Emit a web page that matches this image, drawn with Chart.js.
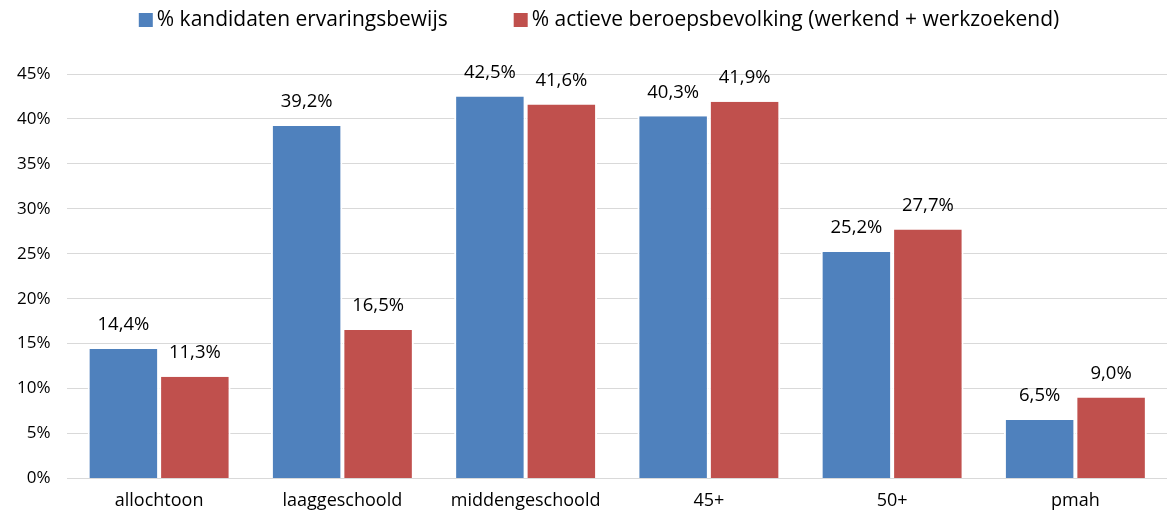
<!DOCTYPE html>
<html>
<head>
<meta charset="utf-8">
<script src="https://cdn.jsdelivr.net/npm/chart.js@4"></script>
<style>
  html, body { margin: 0; padding: 0; background: #fff; }
  #wrap { width: 1167px; height: 516px; position: relative; }
</style>
</head>
<body>
<div id="wrap"><canvas id="chart"></canvas></div>
<script>
// Categories and series
const categories = ['allochtoon', 'laaggeschoold', 'middengeschoold', '45+', '50+', 'pmah'];
const kandidaten = [14.4, 39.2, 42.5, 40.3, 25.2, 6.5];
const beroepsbevolking = [11.3, 16.5, 41.6, 41.9, 27.7, 9.0];
const seriesNames = ['% kandidaten ervaringsbewijs', '% actieve beroepsbevolking (werkend + werkzoekend)'];
const seriesColors = ['#4f81bd', '#c0504d'];

const fontFamily = "'Open Sans', 'Noto Sans', sans-serif";

// Value labels above bars, comma as decimal separator
const barLabels = {
  id: 'barLabels',
  afterDatasetsDraw(chart) {
    const ctx = chart.ctx;
    ctx.save();
    ctx.font = '18.5px ' + fontFamily;
    ctx.fillStyle = '#000';
    ctx.textAlign = 'center';
    ctx.textBaseline = 'middle';
    chart.data.datasets.forEach((ds, i) => {
      chart.getDatasetMeta(i).data.forEach((bar, j) => {
        const txt = ds.data[j].toFixed(1).replace('.', ',') + '%';
        ctx.fillText(txt, bar.x, bar.y - 24);
      });
    });
    ctx.restore();
  }
};

// Legend drawn by hand so the spacing matches the original
const topLegend = {
  id: 'topLegend',
  afterDraw(chart) {
    const ctx = chart.ctx;
    ctx.save();
    ctx.font = '21px ' + fontFamily;
    ctx.textBaseline = 'middle';
    const box = 14, gapText = 4, gapItems = 66;
    const widths = seriesNames.map(n => ctx.measureText(n).width);
    const total = widths.reduce((a, w) => a + box + gapText + w, 0) + gapItems;
    let x = 599 - total / 2;
    const y = 20;
    seriesNames.forEach((name, i) => {
      ctx.fillStyle = seriesColors[i];
      ctx.fillRect(x, y - box / 2, box, box);
      ctx.fillStyle = '#000';
      ctx.fillText(name, x + box + gapText, y);
      x += box + gapText + widths[i] + gapItems;
    });
    ctx.restore();
  }
};

new Chart(document.getElementById('chart'), {
  type: 'bar',
  data: {
    labels: categories,
    datasets: seriesNames.map((name, i) => ({
      label: name,
      data: i === 0 ? kandidaten : beroepsbevolking,
      backgroundColor: seriesColors[i],
      borderColor: '#fff',
      borderWidth: { left: 2, right: 2 },
      categoryPercentage: 0.78,
      barPercentage: 1
    }))
  },
  options: {
    responsive: true,
    maintainAspectRatio: false,
    animation: false,
    layout: { padding: { top: 74, right: 0, left: 0, bottom: -8 } },
    plugins: {
      legend: { display: false },
      tooltip: { enabled: false }
    },
    scales: {
      x: {
        grid: { display: false, drawTicks: false },
        border: { display: false },
        ticks: {
          font: { family: fontFamily, size: 18 },
          color: '#000',
          padding: 12
        }
      },
      y: {
        min: 0,
        max: 45,
        ticks: {
          stepSize: 5,
          font: { family: fontFamily, size: 17 },
          color: '#000',
          padding: 17,
          callback: v => v + '%'
        },
        grid: { color: '#d9d9d9', lineWidth: 1, drawTicks: false },
        border: { display: false }
      }
    }
  },
  plugins: [barLabels, topLegend]
});
</script>
</body>
</html>
